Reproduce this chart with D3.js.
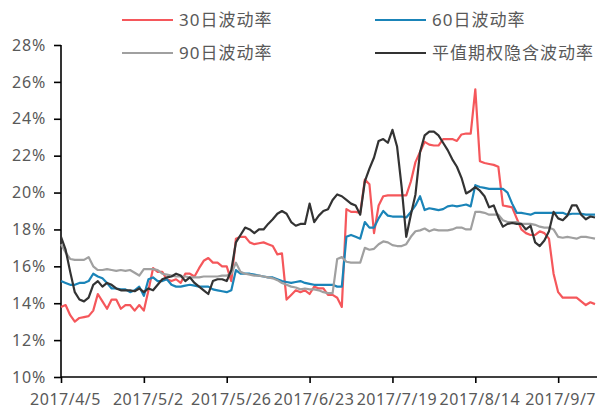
<!DOCTYPE html>
<html>
<head>
<meta charset="utf-8">
<script src="https://cdn.jsdelivr.net/npm/d3@7"></script>
<style>
  body { margin: 0; background: #fff; }
  svg { display: block; }
</style>
</head>
<body>
<div id="chart"></div>
<script>
// tick labels sit every 18 trading days
const tickIdx = [0, 18, 36, 54, 72, 90, 108];
const tickLabels = ["2017/4/5", "2017/5/2", "2017/5/26", "2017/6/23", "2017/7/19", "2017/8/14", "2017/9/7"];
const yTicks = [10, 12, 14, 16, 18, 20, 22, 24, 26, 28];

// 30日波动率 (%)
const vol30 = [
  13.8, 13.9, 13.35, 13.0, 13.2, 13.25, 13.3, 13.6, 14.5, 14.1,
  13.7, 14.2, 14.2, 13.7, 13.9, 13.9, 13.6, 13.9, 13.6, 14.7,
  15.9, 15.7, 15.7, 15.3, 15.2, 15.3, 15.1, 15.6, 15.6, 15.45,
  15.9, 16.3, 16.45, 16.2, 16.2, 16.0, 16.0, 15.2, 17.5, 17.6,
  17.6, 17.3, 17.2, 17.25, 17.3, 17.2, 17.1, 16.65, 16.7, 14.2,
  14.45, 14.7, 14.6, 14.7, 14.5, 14.9, 14.8, 14.8, 14.45, 14.45,
  14.3, 13.8, 19.1, 18.95, 18.95, 18.9, 20.7, 20.45, 17.8, 19.3,
  19.8, 19.85, 19.85, 19.85, 19.85, 19.85, 20.6, 21.65, 22.2, 22.75,
  22.6, 22.55, 22.55, 22.9, 22.9, 22.9, 22.8, 23.15, 23.2, 23.2,
  25.6, 21.7, 21.6, 21.55, 21.5, 21.4, 19.3, 19.25, 19.2, 18.6,
  18.0, 17.8, 17.7, 17.7, 17.9, 17.8, 17.5, 15.6, 14.6, 14.3,
  14.3, 14.3, 14.3, 14.1, 13.9, 14.05, 13.95
];

// 60日波动率 (%)
const vol60 = [
  15.2, 15.1, 15.0, 15.0, 15.1, 15.1, 15.2, 15.6, 15.45, 15.35,
  15.1, 14.8, 14.8, 14.75, 14.75, 14.6, 14.7, 14.9, 14.4, 15.3,
  15.4, 15.2, 15.2, 15.3, 15.0, 14.9, 14.9, 14.95, 15.0, 14.95,
  14.9, 14.9, 14.9, 14.75, 14.7, 14.65, 14.6, 14.7, 15.8, 15.6,
  15.6, 15.6, 15.55, 15.5, 15.45, 15.4, 15.4, 15.3, 15.2, 15.15,
  15.1, 15.15, 15.2, 15.1, 15.05, 15.0, 15.0, 15.0, 15.0, 15.0,
  14.9, 14.9, 17.6, 17.7, 17.6, 17.5, 18.4, 18.1, 18.1, 18.6,
  19.0, 18.75, 18.7, 18.7, 18.7, 18.65, 18.95, 19.3, 19.8, 19.05,
  19.15, 19.1, 19.05, 19.1, 19.25, 19.3, 19.25, 19.3, 19.35, 19.25,
  20.4, 20.3, 20.25, 20.2, 20.2, 20.2, 20.2, 20.0, 19.4, 18.9,
  18.9, 18.85, 18.8, 18.9, 18.9, 18.9, 18.9, 18.9, 18.9, 18.9,
  18.8, 18.85, 18.85, 18.85, 18.8, 18.8, 18.8
];

// 90日波动率 (%)
const vol90 = [
  17.2, 16.75, 16.4, 16.35, 16.35, 16.35, 16.5, 16.0, 15.8, 15.8,
  15.85, 15.8, 15.75, 15.8, 15.75, 15.8, 15.65, 15.5, 15.85, 15.85,
  15.85, 15.8, 15.6, 15.55, 15.5, 15.45, 15.45, 15.45, 15.4, 15.4,
  15.4, 15.45, 15.45, 15.45, 15.45, 15.5, 15.5, 15.6, 16.2, 15.7,
  15.6, 15.55, 15.5, 15.5, 15.45, 15.4, 15.35, 15.25, 15.1, 15.0,
  14.9, 14.85, 14.75, 14.8, 14.75, 14.75, 14.7, 14.6, 14.55, 14.55,
  16.4, 16.5, 16.25, 16.2, 16.2, 16.2, 17.0, 16.9, 16.95, 17.2,
  17.35, 17.3, 17.15, 17.1, 17.1, 17.2, 17.6, 17.9, 17.95, 18.05,
  17.9, 18.0, 17.95, 17.95, 17.95, 18.0, 18.1, 18.1, 18.0, 18.0,
  18.95, 18.95, 18.9, 18.8, 18.8, 18.8, 18.5, 18.4, 18.4, 18.4,
  18.3, 18.3, 18.3, 18.25, 18.15, 18.1, 18.1, 18.0, 17.6, 17.55,
  17.6, 17.55, 17.5, 17.6, 17.6, 17.55, 17.5
];

// 平值期权隐含波动率 (%)
const ivAtm = [
  17.6, 16.9, 15.7, 14.6, 14.2, 14.1, 14.3, 15.0, 15.2, 14.9,
  15.1, 15.0, 14.8, 14.7, 14.7, 14.7, 14.65, 14.8, 14.6, 14.8,
  14.7, 15.0, 15.3, 15.4, 15.45, 15.6, 15.5, 15.2, 15.4, 15.1,
  14.9, 14.7, 14.5, 15.2, 15.3, 15.3, 15.2, 15.8, 17.3, 17.7,
  18.1, 18.0, 17.8, 18.0, 18.0, 18.3, 18.55, 18.85, 19.0, 18.85,
  18.4, 18.2, 18.3, 18.3, 19.4, 18.4, 18.75, 19.0, 19.1, 19.6,
  19.9, 19.8, 19.6, 19.4, 19.3, 18.8, 20.6, 21.3, 21.9, 22.8,
  22.9, 22.7, 23.4, 22.5, 20.3, 17.6, 18.8, 19.9, 22.2, 23.1,
  23.3, 23.3, 23.1, 22.7, 22.3, 21.8, 21.4, 20.8, 19.95, 20.1,
  20.3, 20.1, 19.8, 19.2, 19.3, 18.65, 18.15, 18.3, 18.35, 18.3,
  18.3, 18.0, 18.2, 17.3, 17.1, 17.4, 17.9, 18.95, 18.6, 18.5,
  18.75, 19.3, 19.3, 18.8, 18.55, 18.7, 18.65
];

const series = [
  { name: "30日波动率", values: vol30, color: "#f5575b" },
  { name: "60日波动率", values: vol60, color: "#1a84b8" },
  { name: "90日波动率", values: vol90, color: "#a0a0a0" },
  { name: "平值期权隐含波动率", values: ivAtm, color: "#333333" }
];

// plot box (window.top is read-only, so no bare "top")
var width = 597, height = 410;
var margin = { top: 45, right: 595, bottom: 377, left: 61 };
var font = "'Noto Sans', 'Noto Sans CJK SC', sans-serif";

let svg = d3.select("#chart").append("svg")
  .attr("width", width)
  .attr("height", height);

let x = d3.scaleLinear()
  .domain([0, vol30.length - 1])
  .range([margin.left, margin.right]);

let y = d3.scaleLinear()
  .domain([10, 28])
  .range([margin.bottom, margin.top]);

// y axis
let yAxis = svg.append("g")
  .attr("transform", "translate(" + margin.left + ",0)")
  .call(d3.axisLeft(y).tickValues(yTicks).tickSize(7).tickPadding(8)
    .tickFormat(d => d + "%"));
yAxis.select(".domain").attr("d", "M0," + margin.top + "V" + margin.bottom);

// x axis
let xAxis = svg.append("g")
  .attr("transform", "translate(0," + margin.bottom + ")")
  .call(d3.axisBottom(x).tickValues(tickIdx).tickSize(6).tickPadding(11)
    .tickFormat((d, i) => tickLabels[i]));
xAxis.select(".domain").attr("d", "M" + margin.left + ",0H" + width);

svg.selectAll(".tick line, .domain")
  .attr("stroke", "#000")
  .attr("stroke-width", 1.6);

yAxis.selectAll(".tick text")
  .attr("fill", "#595959")
  .style("font-family", font)
  .style("font-size", "16px")
  .style("letter-spacing", "0.8px");

xAxis.selectAll(".tick text")
  .attr("fill", "#595959")
  .attr("dx", "4")
  .style("font-family", font)
  .style("font-size", "16px")
  .style("letter-spacing", "0.5px");

// keep the last date label inside the picture
xAxis.selectAll(".tick text").each(function () {
  let b = this.getBoundingClientRect();
  if (b.right > width - 1) {
    d3.select(this).attr("dx", 4 - (b.right - (width - 1)));
  }
});

// lines
let line = d3.line()
  .x((d, i) => x(i))
  .y(d => y(d));

svg.append("g")
  .selectAll("path")
  .data(series)
  .join("path")
  .attr("fill", "none")
  .attr("stroke", d => d.color)
  .attr("stroke-width", 2.2)
  .attr("stroke-linejoin", "round")
  .attr("d", d => line(d.values));

// legend, 2 x 2
let legendPos = [[122, 20], [375, 20], [122, 53], [375, 53]];
let legend = svg.append("g")
  .selectAll("g")
  .data(series)
  .join("g")
  .attr("transform", (d, i) => "translate(" + legendPos[i][0] + "," + legendPos[i][1] + ")");

legend.append("line")
  .attr("x1", 0).attr("x2", 51)
  .attr("stroke", d => d.color)
  .attr("stroke-width", 2.2);

legend.append("text")
  .attr("x", 57)
  .attr("dy", "0.35em")
  .attr("fill", "#595959")
  .style("font-family", font)
  .style("font-size", "17px")
  .style("letter-spacing", "1px")
  .text(d => d.name);
</script>
</body>
</html>
